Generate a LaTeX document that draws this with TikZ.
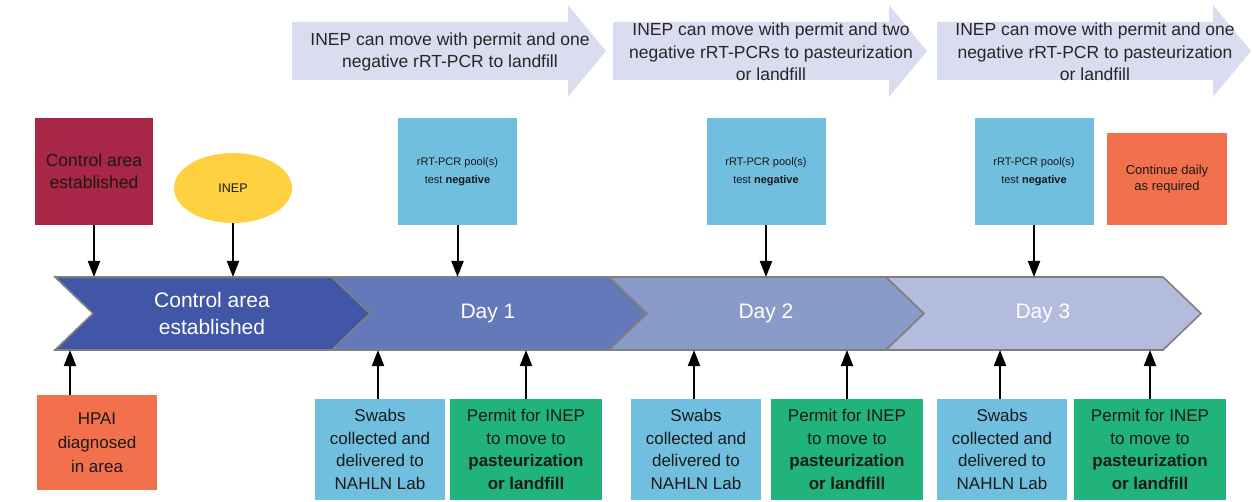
\documentclass[tikz,border=0pt]{standalone}
\usepackage{fontspec}
\setmainfont{Liberation Sans}
\usetikzlibrary{arrows.meta,shapes.geometric}
\definecolor{bannercol}{RGB}{218,221,240}
\definecolor{bandline}{RGB}{127,127,127}
\definecolor{seg0}{RGB}{65,86,166}
\definecolor{seg1}{RGB}{100,121,185}
\definecolor{seg2}{RGB}{138,155,201}
\definecolor{seg3}{RGB}{179,188,220}
\definecolor{crimson}{RGB}{168,39,70}
\definecolor{inepyellow}{RGB}{255,209,64}
\definecolor{pcrblue}{RGB}{112,191,223}
\definecolor{alertorange}{RGB}{243,112,76}
\definecolor{permitgreen}{RGB}{32,180,122}

\begin{document}
\begin{tikzpicture}[x=1pt,y=-1pt,>={Triangle[length=16pt,width=12pt]},
  banner/.style={fill=bannercol},
  bannertext/.style={align=center,text=black!85,font=\fontsize{17.5}{22.5}\selectfont},
  chevron/.style={draw=bandline,line width=1.6pt,line join=miter},
  daytext/.style={align=center,text=white,font=\fontsize{21}{27}\selectfont},
  box/.style={inner sep=0pt,align=center,text=black!90},
  bigbox/.style={box,font=\fontsize{17}{22.5}\selectfont},
  smallbox/.style={box,font=\fontsize{11}{18.5}\selectfont},
  conn/.style={->,line width=2pt}]
\useasboundingbox (0,0) rectangle (1252,502);
% The banners above the days
\foreach \i/\l/\msg in {1/292/{INEP can move with permit and one\\negative rRT-PCR to landfill},
  2/613/{INEP can move with permit and two\\negative rRT-PCRs to pasteurization\\or landfill},
  3/937/{INEP can move with permit and one\\negative rRT-PCR to pasteurization\\or landfill}}
{
  \fill[banner] (\l,22) -- ++(276,0) -- ++(0,-17) -- ++(38,46) -- ++(-38,46) -- ++(0,-17) -- ++(-276,0) -- cycle;
  \node[bannertext] (msg\i) at (\l+158,52) {\msg};
}
% The day band
\foreach \l/\col in {55/seg0,332/seg1,609/seg2,886/seg3}
  \filldraw[chevron,fill=\col] (\l,277) -- ++(277,0) -- ++(38,36.5) -- ++(-38,36.5) -- ++(-277,0) -- ++(38,-36.5) -- cycle;
\coordinate (bandtop) at (0,277);
\coordinate (bandbot) at (0,350);
\node[daytext] (day0) at (212,313.5) {Control area\\established};
\node[daytext] (day1) at (488,313.5) {Day 1};
\node[daytext] (day2) at (766,313.5) {Day 2};
\node[daytext] (day3) at (1043,313.5) {Day 3};
% The events above the band
\node[box,fill=crimson,minimum width=118pt,minimum height=107pt,font=\fontsize{17.5}{22}\selectfont] (ctrl) at (94,171.5) {Control area\\established};
\node[box,ellipse,fill=inepyellow,minimum width=118pt,minimum height=70pt,font=\fontsize{12.5}{15}\selectfont] (inep) at (233,188) {INEP};
\node[smallbox,fill=pcrblue,minimum width=119pt,minimum height=107pt] (pcr1) at (457.5,171.5) {rRT-PCR pool(s)\\test \textbf{negative}};
\node[smallbox,fill=pcrblue,minimum width=119pt,minimum height=107pt] (pcr2) at (766,171.5) {rRT-PCR pool(s)\\test \textbf{negative}};
\node[smallbox,fill=pcrblue,minimum width=119pt,minimum height=107pt] (pcr3) at (1034,171.5) {rRT-PCR pool(s)\\test \textbf{negative}};
\node[box,fill=alertorange,minimum width=120pt,minimum height=92pt,font=\fontsize{13}{16}\selectfont] (cont) at (1167,179) {Continue daily\\as required};
\foreach \n in {ctrl,inep,pcr1,pcr2,pcr3}
  \draw[conn] (\n.south) -- (\n.south |- bandtop);
% The events below the band
\node[bigbox,fill=alertorange,minimum width=120pt,minimum height=95pt,font=\fontsize{17}{24}\selectfont] (hpai) at (97,442.5) {HPAI\\diagnosed\\in area};
\foreach \i/\sx/\px in {1/380/526,2/696/847,3/1002/1150}
{
  \node[bigbox,fill=pcrblue,minimum width=130pt,minimum height=101pt] (swab\i) at (\sx,449.5) {Swabs\\collected and\\delivered to\\NAHLN Lab};
  \node[bigbox,fill=permitgreen,minimum width=152pt,minimum height=101pt] (permit\i) at (\px,449.5) {Permit for INEP\\to move to\\\textbf{pasteurization}\\\textbf{or landfill}};
  \draw[conn] ([xshift=-2pt]swab\i.north) -- ([xshift=-2pt]swab\i.north |- bandbot);
  \draw[conn] (permit\i.north) -- (permit\i.north |- bandbot);
}
\draw[conn] ([xshift=-27pt]hpai.north) -- ([xshift=-27pt]hpai.north |- bandbot);
\end{tikzpicture}
\end{document}
